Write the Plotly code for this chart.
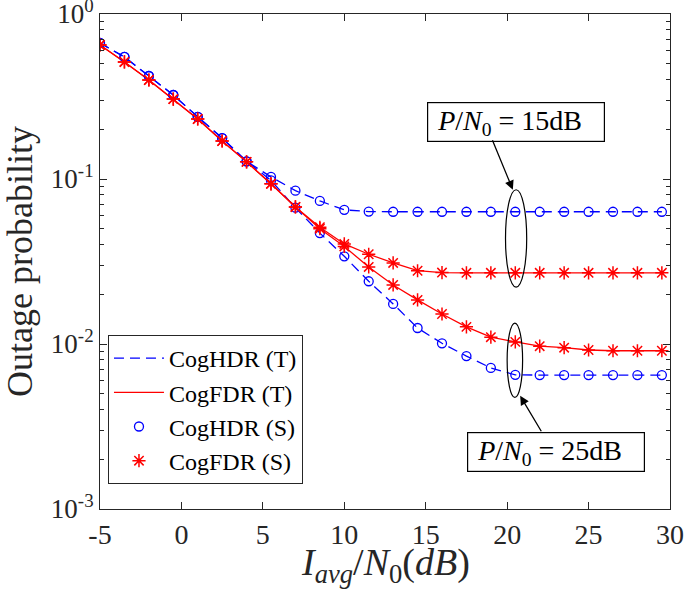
import numpy as np
import plotly.graph_objects as go

# ---------------- data ----------------
snr_db = [-5, -3.5, -2, -0.5, 1, 2.5, 4, 5.5, 7, 8.5, 10, 11.5, 13, 14.5, 16,
          17.5, 19, 20.5, 22, 23.5, 25, 26.5, 28, 29.5]

hdr_15 = [0.667, 0.549, 0.421, 0.323, 0.238, 0.177, 0.128, 0.103, 0.0850, 0.0736,
          0.0650, 0.0635, 0.0633, 0.0633, 0.0633, 0.0633, 0.0633, 0.0633, 0.0633,
          0.0633, 0.0633, 0.0633, 0.0633, 0.0633]
fdr_15 = [0.649, 0.512, 0.398, 0.305, 0.231, 0.170, 0.127, 0.0935, 0.0677, 0.0510,
          0.0404, 0.0350, 0.0310, 0.0278, 0.0271, 0.0270, 0.0270, 0.0270, 0.0270,
          0.0270, 0.0270, 0.0270, 0.0270, 0.0270]
hdr_25 = [0.667, 0.549, 0.421, 0.323, 0.238, 0.177, 0.128, 0.0980, 0.0670, 0.0470,
          0.0340, 0.0240, 0.0175, 0.0125, 0.0101, 0.00845, 0.00716, 0.00650, 0.00648,
          0.00648, 0.00648, 0.00648, 0.00648, 0.00648]
fdr_25 = [0.649, 0.512, 0.398, 0.305, 0.231, 0.170, 0.127, 0.0935, 0.0677, 0.0500,
          0.0390, 0.0293, 0.0228, 0.0185, 0.0152, 0.0127, 0.0110, 0.0103, 0.0097,
          0.0095, 0.0092, 0.0091, 0.0091, 0.0091]

legend_names = ["CogHDR (T)", "CogFDR (T)", "CogHDR (S)", "CogFDR (S)"]
y_tick_vals = [1e-3, 1e-2, 1e-1, 1e0]
y_tick_text = ["10<sup>-3</sup>", "10<sup>-2</sup>", "10<sup>-1</sup>", "10<sup>0</sup>"]
x_tick_vals = [-5, 0, 5, 10, 15, 20, 25, 30]
x_tick_text = ["-5", "0", "5", "10", "15", "20", "25", "30"]

x_title = "<i>I</i><sub><i>avg</i></sub>/<i>N</i><sub>0</sub>(<i>dB</i>)"
y_title = "Outage probability"
label_15 = "<i>P</i>/<i>N</i><sub>0</sub> = 15dB"
label_25 = "<i>P</i>/<i>N</i><sub>0</sub> = 25dB"

# ---------------- figure ----------------
BLUE = "#0000FF"
RED = "#FF0000"
FONT = "Liberation Serif"
AXC = "#262626"

fig = go.Figure()

dash_style = "10px,6px"
# theory lines
fig.add_trace(go.Scatter(x=snr_db, y=hdr_15, mode="lines", name=legend_names[0],
                         line=dict(color=BLUE, width=1.3, dash=dash_style), legendgroup="a"))
fig.add_trace(go.Scatter(x=snr_db, y=hdr_25, mode="lines", name=legend_names[0], showlegend=False,
                         line=dict(color=BLUE, width=1.3, dash=dash_style), legendgroup="a"))
fig.add_trace(go.Scatter(x=snr_db, y=fdr_15, mode="lines", name=legend_names[1],
                         line=dict(color=RED, width=1.3), legendgroup="b"))
fig.add_trace(go.Scatter(x=snr_db, y=fdr_25, mode="lines", name=legend_names[1], showlegend=False,
                         line=dict(color=RED, width=1.3), legendgroup="b"))
# simulation markers
circ = dict(symbol="circle-open", size=9, color=BLUE, line=dict(color=BLUE, width=1.3))
star = dict(symbol="asterisk-open", size=11, color=RED, line=dict(color=RED, width=1.5))
fig.add_trace(go.Scatter(x=snr_db, y=hdr_15, mode="markers", name=legend_names[2],
                         marker=circ, legendgroup="c"))
fig.add_trace(go.Scatter(x=snr_db, y=hdr_25, mode="markers", name=legend_names[2], showlegend=False,
                         marker=circ, legendgroup="c"))
fig.add_trace(go.Scatter(x=snr_db, y=fdr_15, mode="markers", name=legend_names[3],
                         marker=star, legendgroup="d"))
fig.add_trace(go.Scatter(x=snr_db, y=fdr_25, mode="markers", name=legend_names[3], showlegend=False,
                         marker=star, legendgroup="d"))

# ellipses around the curves at the marker x = 20.5
xi = snr_db.index(20.5)
xc = snr_db[xi]
e15 = dict(x0=xc - 0.6, x1=xc + 0.7, y0=fdr_15[xi] * 0.82, y1=hdr_15[xi] * 1.36)
e25 = dict(x0=xc - 0.5, x1=xc + 0.45, y0=hdr_25[xi] * 0.73, y1=fdr_25[xi] * 1.30)
for e in (e15, e25):
    fig.add_shape(type="circle", xref="x", yref="y", line=dict(color="black", width=1.2), **e)

# labels with arrows
box_style = dict(showarrow=False, font=dict(family=FONT, size=28, color="black"),
                 bordercolor="black", borderwidth=1.2, borderpad=3, bgcolor="white",
                 width=170, height=32, align="left")
fig.add_annotation(x=xc + 0.05, y=np.log10(hdr_15[xi]) + 0.545, xref="x", yref="y",
                   text="&nbsp;" + label_15, **box_style)
fig.add_annotation(x=xc - 0.15, y=np.log10(e15["y1"]), xref="x", yref="y", text="",
                   showarrow=True, arrowhead=2, arrowsize=1.4, arrowwidth=1.3, arrowcolor="black",
                   ax=-21, ay=-51, standoff=0)
fig.add_annotation(x=xc + 2.5, y=np.log10(hdr_25[xi]) - 0.47, xref="x", yref="y",
                   text="&nbsp;" + label_25, **box_style)
fig.add_annotation(x=xc + 0.3, y=np.log10(e25["y0"]) + 0.01, xref="x", yref="y", text="",
                   showarrow=True, arrowhead=2, arrowsize=1.4, arrowwidth=1.3, arrowcolor="black",
                   ax=22, ay=37, standoff=0)

# x-axis title (placed as paper annotation to sit closer to the tick labels)
fig.add_annotation(x=0.5, y=-0.114, xref="paper", yref="paper", text=x_title, showarrow=False,
                   xanchor="center", yanchor="middle",
                   font=dict(family=FONT, size=38, color=AXC))

axis_common = dict(showline=True, linecolor=AXC, linewidth=1, mirror="allticks",
                   ticks="inside", tickcolor=AXC, showgrid=False, zeroline=False,
                   automargin=False, ticklabeloverflow="allow")

fig.update_xaxes(range=[-5, 30], tickvals=x_tick_vals, ticktext=x_tick_text, ticklen=7,
                 tickfont=dict(family=FONT, size=28, color=AXC),
                 **axis_common)
fig.update_yaxes(type="log", range=[-3, 0], tickvals=y_tick_vals, ticktext=y_tick_text, ticklen=7,
                 tickfont=dict(family=FONT, size=27, color=AXC),
                 minor=dict(ticks="inside", ticklen=4, tickcolor=AXC,
                            tickvals=[m * 10.0 ** d for d in (-3, -2, -1) for m in range(2, 10)]),
                 title=dict(text=y_title, font=dict(family=FONT, size=36, color=AXC),
                            standoff=14),
                 **axis_common)

fig.update_layout(
    width=685, height=591,
    margin=dict(l=100, r=15, t=14, b=82),
    plot_bgcolor="white", paper_bgcolor="white",
    font=dict(family=FONT, color="black"),
    legend=dict(x=0.014, y=0.3515, xanchor="left", yanchor="top",
                bordercolor=AXC, borderwidth=1, bgcolor="white",
                font=dict(family=FONT, size=24, color="black"),
                tracegroupgap=0, itemwidth=50),
    showlegend=True,
)

fig.write_html("out.html", config={"displayModeBar": False},
               post_script="document.body.style.margin='0';document.body.style.overflow='hidden';")
